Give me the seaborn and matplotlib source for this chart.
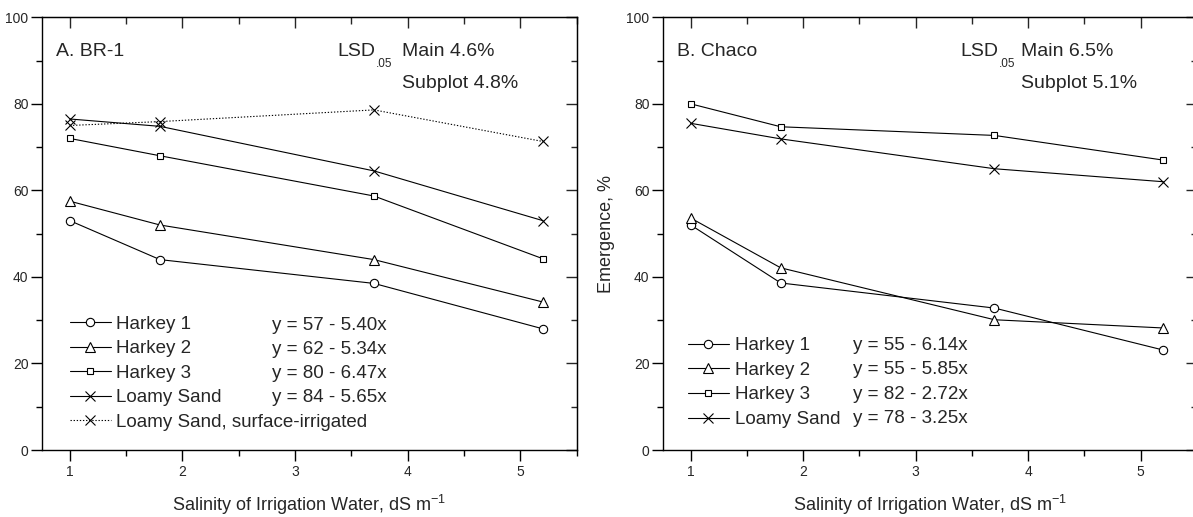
import matplotlib
matplotlib.use("Agg")
import matplotlib.pyplot as plt
import pandas as pd
import seaborn as sns
from matplotlib.ticker import MultipleLocator

# data
salinity = [1.0, 1.8, 3.7, 5.2]
series_a = ["Harkey 1", "Harkey 2", "Harkey 3", "Loamy Sand", "Loamy Sand, surface-irrigated"]
series_b = ["Harkey 1", "Harkey 2", "Harkey 3", "Loamy Sand"]

br1_harkey1 = [53, 44, 38.5, 28]
br1_harkey2 = [57.5, 52, 44, 34.2]
br1_harkey3 = [72, 68, 58.7, 44.2]
br1_loamy = [76.5, 74.8, 64.5, 53]
br1_loamy_surface = [75, 75.9, 78.6, 71.3]

chaco_harkey1 = [52, 38.6, 32.8, 23.1]
chaco_harkey2 = [53.6, 42.1, 30.1, 28.2]
chaco_harkey3 = [80, 74.7, 72.7, 67]
chaco_loamy = [75.5, 71.9, 65, 62]

eq_a = ["y = 57 - 5.40x", "y = 62 - 5.34x", "y = 80 - 6.47x", "y = 84 - 5.65x"]
eq_b = ["y = 55 - 6.14x", "y = 55 - 5.85x", "y = 82 - 2.72x", "y = 78 - 3.25x"]

xticks = [1, 2, 3, 4, 5]
yticks = [0, 20, 40, 60, 80, 100]

sns.set_style("ticks")
plt.rcParams["font.family"] = ["Liberation Sans", "DejaVu Sans"]
plt.rcParams["mathtext.fontset"] = "custom"
plt.rcParams["mathtext.rm"] = "Liberation Sans"
plt.rcParams["mathtext.it"] = "Liberation Sans:italic"

markers = {"Harkey 1": "o", "Harkey 2": "^", "Harkey 3": "s",
           "Loamy Sand": "x", "Loamy Sand, surface-irrigated": "x"}
styles = {"Harkey 1": "-", "Harkey 2": "-", "Harkey 3": "-",
          "Loamy Sand": "-", "Loamy Sand, surface-irrigated": (0, (1.2, 1.6))}
msize = {"o": 6, "^": 6.5, "s": 5, "x": 7}


def draw_panel(ax, names, values, eqs, eq_x, eq_y, leg_anchor, tag, lsd_x, lsd):
    for name, vals in zip(names, values):
        df = pd.DataFrame({"salinity": salinity, "emergence": vals})
        m = markers[name]
        sns.lineplot(data=df, x="salinity", y="emergence", color="black",
                     linestyle=styles[name], linewidth=0.8,
                     marker=m, markersize=msize[m], markeredgecolor="black",
                     markerfacecolor="white", markeredgewidth=0.8, ax=ax)

    ax.set_xlim(0.75, 5.5)
    ax.set_ylim(0, 100)
    ax.set_xticks(xticks)
    ax.set_yticks(yticks)
    ax.xaxis.set_minor_locator(MultipleLocator(0.5))
    ax.yaxis.set_minor_locator(MultipleLocator(10))
    ax.tick_params(which="major", direction="out", length=8, width=1, labelsize=10, color="black")
    ax.tick_params(which="minor", direction="out", length=4, width=1, color="black")
    ax.tick_params(axis="x", pad=3)
    ax.tick_params(axis="y", pad=1.5)
    for s in ax.spines.values():
        s.set_linewidth(1)
        s.set_color("black")
        s.set_visible(True)

    # top and right ticks point inward, as in the original
    top = ax.secondary_xaxis("top")
    top.set_xticks(xticks)
    top.xaxis.set_minor_locator(MultipleLocator(0.5))
    top.tick_params(which="major", direction="in", length=8, width=1, labeltop=False)
    top.tick_params(which="minor", direction="in", length=5, width=1)
    right = ax.secondary_yaxis("right")
    right.set_yticks(yticks)
    right.yaxis.set_minor_locator(MultipleLocator(10))
    right.tick_params(which="major", direction="in", length=8, width=1, labelright=False)
    right.tick_params(which="minor", direction="in", length=4, width=1)

    ax.set_xlabel("Salinity of Irrigation Water, dS m$^{-1}$", fontsize=13, labelpad=10)

    ax.legend(ax.lines, names, loc="upper left", bbox_to_anchor=leg_anchor, frameon=False,
              fontsize=13.5, handlelength=2.2, handletextpad=0.3, labelspacing=0.4,
              borderpad=0, borderaxespad=0)
    for e, y in zip(eqs, eq_y):
        ax.text(eq_x, y, e, fontsize=13.5, va="center", ha="left")

    ax.text(0.88, 92.0, tag, fontsize=14, va="center", ha="left")
    ax.text(lsd_x[0], 92.0, "LSD", fontsize=14, va="center", ha="left")
    ax.text(lsd_x[1], 89.3, ".05", fontsize=8.5, va="center", ha="left")
    ax.text(lsd_x[2], 92.0, "Main " + lsd[0], fontsize=14, va="center", ha="left")
    ax.text(lsd_x[2], 84.8, "Subplot " + lsd[1], fontsize=14, va="center", ha="left")


fig = plt.figure(figsize=(11.93, 5.17), dpi=100)
ax1 = fig.add_axes([41.7 / 1193, 67 / 517, 535 / 1193, 432.7 / 517])
ax2 = fig.add_axes([662.6 / 1193, 67 / 517, 534.4 / 1193, 432.7 / 517])

draw_panel(ax1, series_a, [br1_harkey1, br1_harkey2, br1_harkey3, br1_loamy, br1_loamy_surface],
           eq_a, 2.794, [28.7, 23.2, 17.6, 12.1], (0.052, 0.311),
           "A. BR-1", (3.372, 3.713, 3.95), ("4.6%", "4.8%"))
draw_panel(ax2, series_b, [chaco_harkey1, chaco_harkey2, chaco_harkey3, chaco_loamy],
           eq_b, 2.44, [24.2, 18.6, 12.8, 7.2], (0.047, 0.261),
           "B. Chaco", (3.394, 3.736, 3.933), ("6.5%", "5.1%"))

ax1.set_ylabel("")
ax2.set_ylabel("Emergence, %", fontsize=13, labelpad=8)

fig.savefig("out.png", dpi=100)
plt.close(fig)
